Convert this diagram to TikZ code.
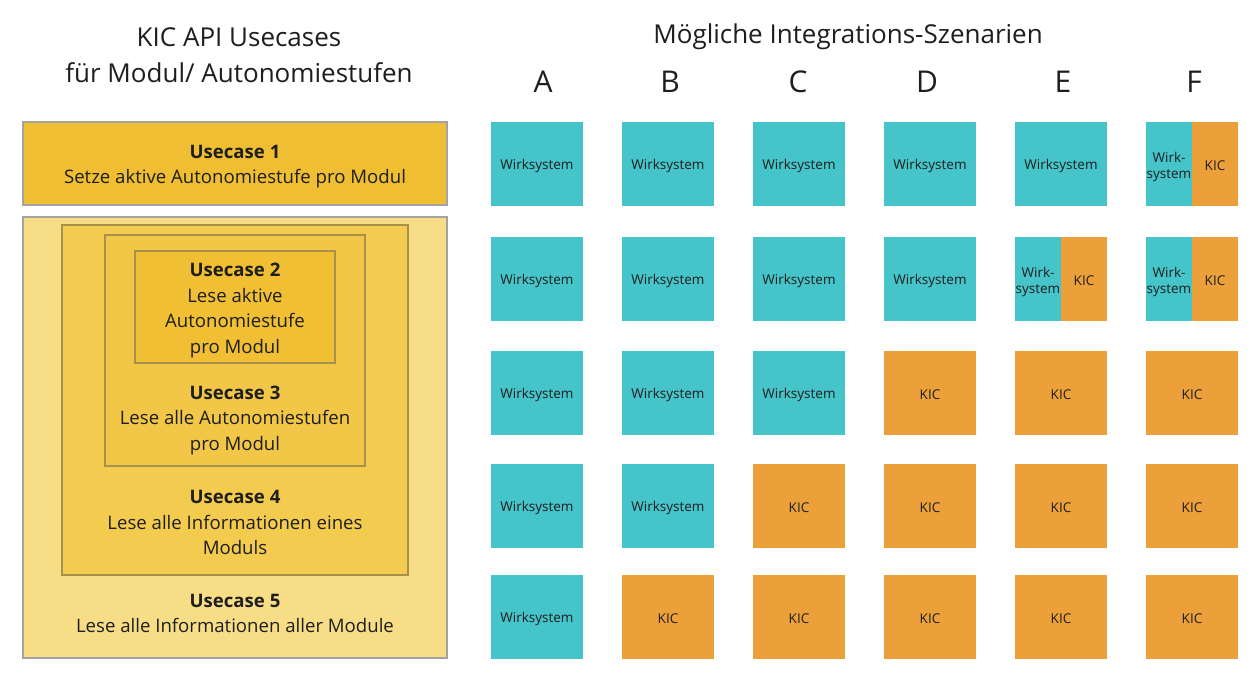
\documentclass[tikz,border=0pt]{standalone}
\usepackage{fontspec}
\setmainfont{Open Sans}
\begin{document}
\definecolor{wsteal}{HTML}{45C4CA}
\definecolor{kicorange}{HTML}{ECA03A}
\definecolor{ucone}{HTML}{F0BE33}
\definecolor{ucfive}{HTML}{F7DE86}
\definecolor{ucfour}{HTML}{F3CB4E}
\definecolor{ucthree}{HTML}{F2C647}
\definecolor{uctwo}{HTML}{F0BF33}
\definecolor{greyline}{HTML}{A3A3A3}
\definecolor{tanline}{HTML}{A8914A}
\definecolor{ink}{HTML}{1E1E1E}
\begin{tikzpicture}[x=1pt,y=-1pt,
  every node/.style={text=ink, inner sep=0pt, outer sep=0pt},
  header/.style={font=\fontsize{26}{36}\selectfont, align=center},
  colletter/.style={font=\fontsize{30}{36}\selectfont},
  ucbox/.style={draw=#1, line width=1.5pt, anchor=north west},
  uctext/.style={font=\fontsize{18.6}{25.5}\selectfont, align=center},
  cell/.style={fill=#1, anchor=north west, minimum width=92pt, minimum height=84pt},
  halfcell/.style={fill=#1, anchor=north west, minimum width=46pt, minimum height=84pt},
  celltext/.style={font=\fontsize{13.5}{16}\selectfont, align=center, yshift=-2pt},
]
\useasboundingbox[fill=white] (0,0) rectangle (1260,678);

% headings
\node[header] (lefthead) at (239,55) {KIC API Usecases\\für Modul/ Autonomiestufen};
\node[header] (righthead) at (848,37) {Mögliche Integrations-Szenarien};
\foreach \l/\x in {A/543,B/670,C/798,D/927,E/1063,F/1194}
  \node[colletter] (col\l) at (\x,82) {\l};

% usecase boxes, outermost first
\node[ucbox=greyline, fill=ucone, minimum width=424pt, minimum height=83pt] (uc1) at (23,122) {};
\node[ucbox=greyline, fill=ucfive, minimum width=424pt, minimum height=441pt] (uc5) at (23,217) {};
\node[ucbox=tanline, fill=ucfour, minimum width=346pt, minimum height=350pt] (uc4) at (62,225) {};
\node[ucbox=tanline, fill=ucthree, minimum width=260pt, minimum height=231pt] (uc3) at (105,235) {};
\node[ucbox=tanline, fill=uctwo, minimum width=200pt, minimum height=112pt] (uc2) at (135,251) {};

% usecase labels
\node[uctext] (uc1text) at (235,166.5) {\textbf{Usecase 1}\\Setze aktive Autonomiestufe pro Modul};
\node[uctext] (uc2text) at (235,310.5) {\textbf{Usecase 2}\\Lese aktive\\Autonomiestufe\\pro Modul};
\node[uctext] (uc3text) at (235,420) {\textbf{Usecase 3}\\Lese alle Autonomiestufen\\pro Modul};
\node[uctext] (uc4text) at (235,522.5) {\textbf{Usecase 4}\\Lese alle Informationen eines\\Moduls};
\node[uctext] (uc5text) at (235,613.5) {\textbf{Usecase 5}\\Lese alle Informationen aller Module};

% scenario grid: W = Wirksystem, K = KIC, S = split cell
\foreach \c/\x/\pattern in {
    A/491/{W,W,W,W,W},
    B/622/{W,W,W,W,K},
    C/753/{W,W,W,K,K},
    D/884/{W,W,K,K,K},
    E/1015/{W,S,K,K,K},
    F/1146/{S,S,K,K,K}} {
  \foreach \kind [count=\r] in \pattern {
    \pgfmathsetmacro{\y}{{122,237,351,464,575}[\r-1]}
    \if\kind W
      \node[cell=wsteal] (\c\r) at (\x,\y) {};
      \node[celltext] (\c\r t) at (\c\r.center) {Wirksystem};
    \fi
    \if\kind K
      \node[cell=kicorange] (\c\r) at (\x,\y) {};
      \node[celltext] (\c\r t) at (\c\r.center) {KIC};
    \fi
    \if\kind S
      \node[halfcell=wsteal] (\c\r w) at (\x,\y) {};
      \node[halfcell=kicorange] (\c\r k) at (\x+46,\y) {};
      \node[celltext, yshift=-1pt] (\c\r wt) at (\c\r w.center) {Wirk-\\system};
      \node[celltext] (\c\r kt) at (\c\r k.center) {KIC};
    \fi
  }
}
\end{tikzpicture}
\end{document}
